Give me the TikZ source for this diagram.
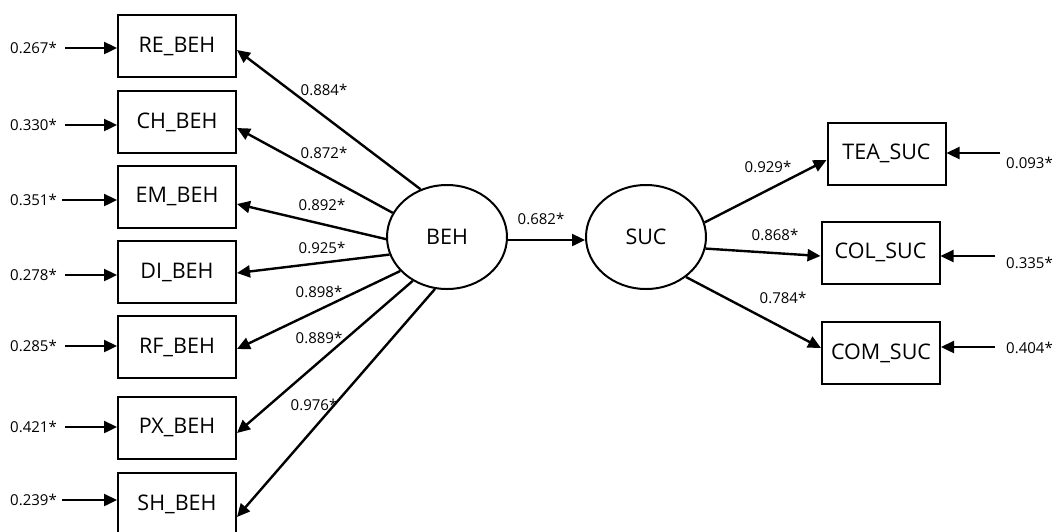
\documentclass[tikz,border=0pt]{standalone}
\usepackage{fontspec}
\setmainfont{Open Sans}
\usetikzlibrary{arrows.meta,shapes.geometric,calc}
% box texts sit slightly below the middle of their frames
\newcommand\boxtxt[1]{\raisebox{-3pt}{#1}}
\tikzset{
  var/.style={draw,line width=2pt,minimum width=118pt,minimum height=62pt,inner sep=0pt,font=\fontsize{21.5}{24}\selectfont},
  lat/.style={draw,ellipse,line width=2pt,minimum width=120pt,minimum height=104pt,inner sep=0pt,font=\fontsize{21.5}{24}\selectfont},
  val/.style={inner sep=1pt,font=\fontsize{15}{17}\selectfont},
  path/.style={line width=2.4pt,-{Triangle[length=13pt,width=12pt]}}
}
\begin{document}
\begin{tikzpicture}[x=1pt,y=-1pt]
\useasboundingbox (0,0) rectangle (1057,531);
% observed indicators of BEH
\node[var] (RE) at (177,46) {\boxtxt{RE\_BEH}};
\node[var] (CH) at (177,122) {\boxtxt{CH\_BEH}};
\node[var] (EM) at (177,196.5) {\boxtxt{EM\_BEH}};
\node[var] (DI) at (177,272) {\boxtxt{DI\_BEH}};
\node[var] (RF) at (177,347) {\boxtxt{RF\_BEH}};
\node[var] (PX) at (177,427.5) {\boxtxt{PX\_BEH}};
\node[var] (SH) at (177,504) {\boxtxt{SH\_BEH}};
% latent variables
\node[lat] (BEH) at (447,237) {\boxtxt{BEH}};
\node[lat] (SUC) at (646,237) {\boxtxt{SUC}};
% observed indicators of SUC
\node[var] (TEA) at (886.5,153.5) {\boxtxt{TEA\_SUC}};
\node[var] (COL) at (880.5,252.5) {\boxtxt{COL\_SUC}};
\node[var] (COM) at (881,353) {\boxtxt{COM\_SUC}};

% error terms, left side
\foreach \n/\y/\v/\x in {RE/48/0.267*/65, CH/125/0.330*/65, EM/200/0.351*/62, DI/275/0.278*/65, RF/346/0.285*/65, PX/427/0.421*/65, SH/500/0.239*/62}{
  \coordinate (e\n) at (\x,\y);
  \node[val,anchor=east] (le\n) at (58,\y) {\v};
  \draw[path] (e\n) -- (\n.west |- e\n);
}
% error terms, right side
\foreach \n/\y/\x/\ly/\v in {TEA/153/1000/163/0.093*, COL/256/995/263/0.335*, COM/347/995/348/0.404*}{
  \coordinate (e\n) at (\x,\y);
  \node[val,anchor=west] (le\n) at (1005,\ly) {\v};
  \draw[path] (e\n) -- (\n.east |- e\n);
}

% loadings of BEH
\draw[path] (BEH.119.9) -- ($(RE.east)+(0,4)$);
\draw[path] (BEH.156.8) -- ($(CH.east)+(0,6)$);
\draw[path] (BEH.182.9) -- ($(EM.east)+(0,7.5)$);
\draw[path] (BEH.197.2) -- ($(DI.east)+(0,1)$);
\draw[path] (BEH.216.3) -- ($(RF.east)+(0,2)$);
\draw[path] (BEH.232.1) -- ($(PX.east)+(0,5.5)$);
\draw[path] (BEH.257.2) -- ($(SH.east)+(0,13)$);
\node[val] (l1) at (324,90) {0.884*};
\node[val] (l2) at (324,153) {0.872*};
\node[val] (l3) at (322,205) {0.892*};
\node[val] (l4) at (322,248) {0.925*};
\node[val] (l5) at (319,292) {0.898*};
\node[val] (l6) at (319,338) {0.889*};
\node[val] (l7) at (314,405) {0.976*};

% structural path
\draw[path] ($(BEH.east)+(0,3)$) -- ($(SUC.west)+(0,3)$);
\node[val] (l0) at (541,219) {0.682*};

% loadings of SUC
\draw[path] (SUC.14.3) -- ($(TEA.west)+(0,6.5)$);
\draw[path] (SUC.-11.3) -- ($(COL.west)+(0,3.5)$);
\draw[path] (SUC.-45) -- ($(COM.west)+(0,-5)$);
\node[val] (m1) at (768,167) {0.929*};
\node[val] (m2) at (775,235) {0.868*};
\node[val] (m3) at (783,298) {0.784*};
\end{tikzpicture}
\end{document}
